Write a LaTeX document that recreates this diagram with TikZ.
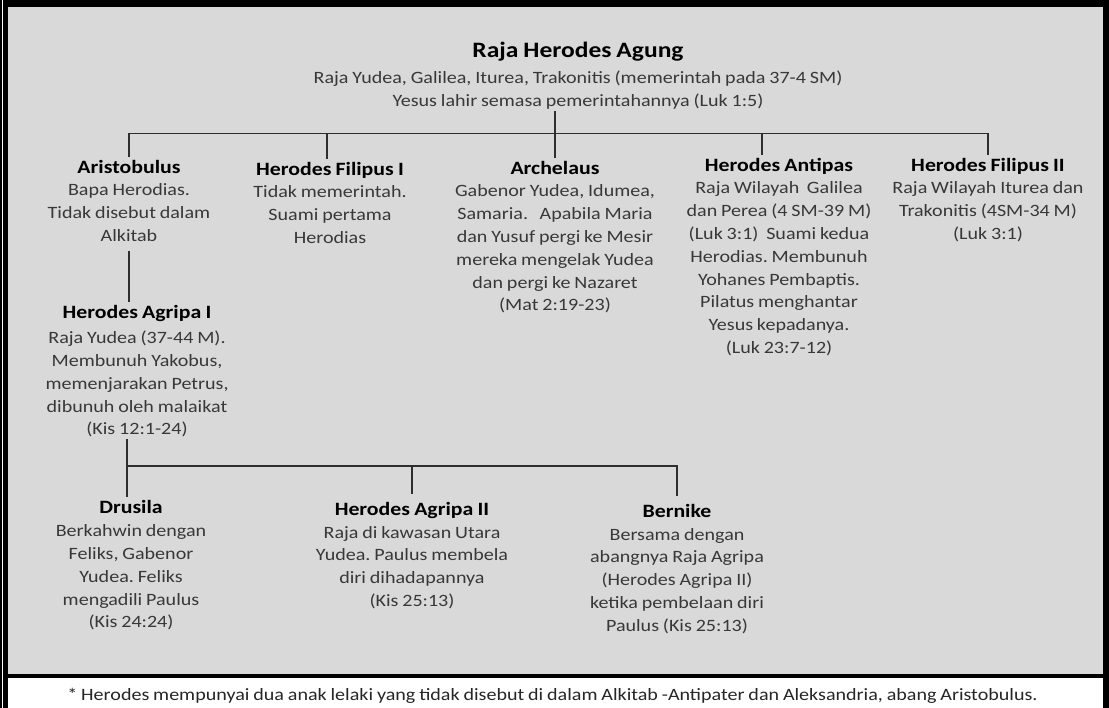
\documentclass[tikz,border=0pt]{standalone}
\usepackage{fontspec}
\setmainfont{Carlito}[FakeStretch=1.16,WordSpace=0.85]
\definecolor{graybg}{HTML}{D9D9D9}
\frenchspacing
\begin{document}
\begin{tikzpicture}[x=1pt,y=-1pt,
  conn/.style={draw=black!82, line width=1.15pt},
  person/.style={align=center, anchor=north, inner xsep=0pt, inner ysep=2pt,
    text=black!78, font=\fontsize{17.3}{22.8}\selectfont\frenchspacing},
  footnote/.style={anchor=base, inner sep=0pt, text=black!85, font=\fontsize{17.3}{22.8}\selectfont\frenchspacing}
]
\newcommand\persontitle[1]{{\rule{0pt}{14pt}\color{black}\fontsize{18.8}{22.8}\selectfont\bfseries #1}}
\useasboundingbox (0,0) rectangle (1109,708);
% frame
\fill[black] (0,0) rectangle (1109,708);
\fill[white] (2,0) rectangle (3,708);
\fill[graybg] (7.5,7) rectangle (1103,674);
\fill[white] (7.5,678) rectangle (1103,708);
% nodes
\node[person] (root) at (578,39.5) {{\rule{0pt}{16pt}\color{black}\fontsize{22}{22.8}\selectfont\bfseries Raja Herodes Agung}\\[3pt]
  Raja Yudea, Galilea, Iturea, Trakonitis (memerintah pada 37-4 SM)\\
  Yesus lahir semasa pemerintahannya (Luk 1:5)};
\node[person] (arist) at (129,157) {\persontitle{Aristobulus}\\
  Bapa Herodias.\\ Tidak disebut dalam\\ Alkitab};
\node[person] (fil1) at (330,159) {\persontitle{Herodes Filipus I}\\
  Tidak memerintah.\\ Suami pertama\\ Herodias};
\node[person] (arch) at (555,158) {\persontitle{Archelaus}\\
  Gabenor Yudea, Idumea,\\ Samaria.\ \ \ Apabila Maria\\ dan Yusuf pergi ke Mesir\\
  mereka mengelak Yudea\\ dan pergi ke Nazaret\\ (Mat 2:19-23)};
\node[person] (antip) at (779,155) {\persontitle{Herodes Antipas}\\
  Raja Wilayah\ \ Galilea\\ dan Perea (4 SM-39 M)\\ (Luk 3:1)\ \ Suami kedua\\
  Herodias. Membunuh\\ Yohanes Pembaptis.\\ Pilatus menghantar\\ Yesus kepadanya.\\ (Luk 23:7-12)};
\node[person] (fil2) at (988,155) {\persontitle{Herodes Filipus II}\\
  Raja Wilayah Iturea dan\\ Trakonitis (4SM-34 M)\\ (Luk 3:1)};
\node[person] (agr1) at (137,302) {\persontitle{Herodes Agripa I}\\[2.7pt]
  Raja Yudea (37-44 M).\\ Membunuh Yakobus,\\ memenjarakan Petrus,\\
  dibunuh oleh malaikat\\ (Kis 12:1-24)};
\node[person] (drus) at (131,497) {\persontitle{Drusila}\\[0.7pt]
  Berkahwin dengan\\ Feliks, Gabenor\\ Yudea. Feliks\\ mengadili Paulus\\ (Kis 24:24)};
\node[person] (agr2) at (412,499) {\persontitle{Herodes Agripa II}\\
  Raja di kawasan Utara\\ Yudea. Paulus membela\\ diri dihadapannya\\ (Kis 25:13)};
\node[person] (bern) at (677,501) {\persontitle{Bernike}\\
  Bersama dengan\\ abangnya Raja Agripa\\ (Herodes Agripa II)\\
  ketika pembelaan diri\\ Paulus (Kis 25:13)};
\node[footnote] (note) at (552.5,700) {* Herodes mempunyai dua anak lelaki yang tidak disebut di dalam Alkitab -Antipater dan Aleksandria, abang Aristobulus.};
% connectors
\coordinate (bar) at (0,133.5);
\coordinate (bartwo) at (0,466);
\draw[conn] (arch.north |- root.south) -- (arch.north);
\draw[conn] (arist.north) |- (fil2.north |- bar) -- (fil2.north);
\draw[conn] ([xshift=-3pt]fil1.north |- bar) -- ([xshift=-3pt]fil1.north);
\draw[conn] ([xshift=-17pt]antip.north |- bar) -- ([xshift=-17pt]antip.north);
\draw[conn] ([yshift=-7.5pt]arist.south) -- (arist.south |- agr1.north);
\draw[conn] ([xshift=-4pt]drus.north |- agr1.south) -- ([xshift=-4pt]drus.north);
\draw[conn] ([xshift=-4pt]drus.north |- bartwo) -| ([yshift=5pt]bern.north);
\draw[conn] (agr2.north |- bartwo) -- ([yshift=5pt]agr2.north);
\end{tikzpicture}
\end{document}
